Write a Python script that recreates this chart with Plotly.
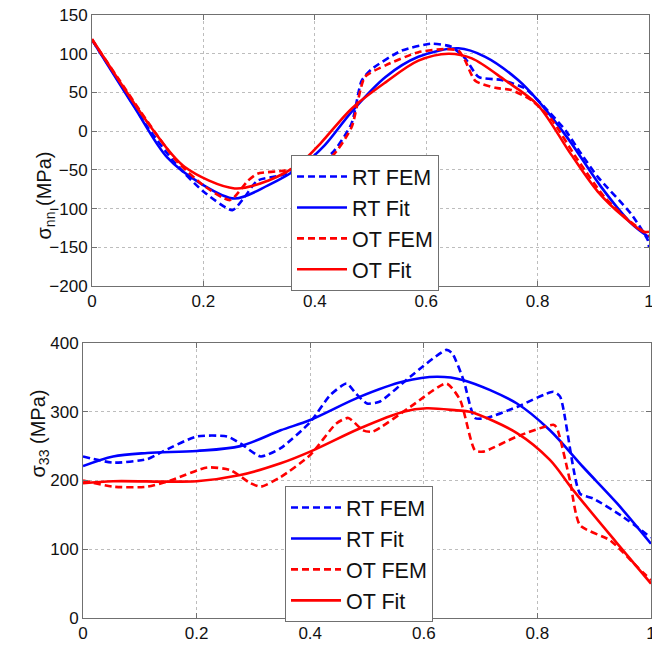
import plotly.graph_objects as go

# ---------------- data: top panel (sigma_nn) ----------------
top_rt_fem_x = [0, 0.05, 0.1, 0.15, 0.2, 0.252, 0.274, 0.297, 0.34, 0.38, 0.43, 0.466, 0.484, 0.502,
                0.556, 0.61, 0.645, 0.67, 0.694, 0.735, 0.778, 0.819, 0.85, 0.878, 0.908, 0.968, 0.998, 1.0]
top_rt_fem_y = [118, 62, 5, -42, -78, -102, -85, -64, -57, -45, -29, 10, 65, 80,
                104, 113, 109, 94, 70, 66, 55, 26, 1, -29, -59, -107, -141, -150]

top_rt_fit_x = [0, 0.076, 0.135, 0.196, 0.256, 0.316, 0.376, 0.418, 0.466, 0.527, 0.586, 0.658,
                0.706, 0.765, 0.8, 0.855, 0.914, 0.968, 1.0]
top_rt_fit_y = [118, 31, -34, -68, -87, -70, -45, -18, 25, 70, 96, 107,
                96, 66, 40, -10, -72, -119, -137]

top_ot_fem_x = [0, 0.05, 0.1, 0.15, 0.2, 0.248, 0.28, 0.297, 0.346, 0.38, 0.43, 0.466, 0.49, 0.527,
                0.586, 0.634, 0.658, 0.67, 0.688, 0.724, 0.753, 0.789, 0.826, 0.87, 0.92, 0.96, 1.0]
top_ot_fem_y = [118, 65, 12, -37, -70, -89, -64, -55, -51, -45, -33, 5, 70, 85,
                102, 106, 104, 91, 65, 56, 53, 40, 14, -35, -85, -113, -135]

top_ot_fit_x = [0, 0.106, 0.166, 0.256, 0.316, 0.376, 0.41, 0.466, 0.527, 0.586, 0.64, 0.682,
                0.741, 0.8, 0.86, 0.908, 0.955, 0.99, 1.0]
top_ot_fit_y = [119, 5, -46, -74, -64, -40, -16, 29, 63, 91, 100, 94,
                66, 34, -30, -78, -111, -130, -130]

# ---------------- data: bottom panel (sigma_33) ----------------
bot_rt_fem_x = [0, 0.053, 0.113, 0.14, 0.2, 0.254, 0.277, 0.313, 0.348, 0.4, 0.435, 0.464, 0.48, 0.5,
                0.523, 0.576, 0.64, 0.65, 0.67, 0.69, 0.711, 0.764, 0.828, 0.84, 0.875, 0.898, 0.951, 1.0]
bot_rt_fem_y = [235, 226, 231, 242, 264, 264, 254, 235, 247, 285, 324, 341, 327, 312,
                315, 351, 390, 385, 346, 291, 291, 307, 329, 322, 181, 174, 147, 117]

bot_rt_fit_x = [0, 0.053, 0.113, 0.2, 0.277, 0.348, 0.4, 0.488, 0.564, 0.623, 0.67, 0.764,
                0.822, 0.88, 0.94, 1.0]
bot_rt_fit_y = [221, 235, 240, 243, 250, 273, 288, 322, 344, 351, 346, 312,
                273, 220, 167, 108]

bot_ot_fem_x = [0, 0.053, 0.113, 0.154, 0.219, 0.26, 0.295, 0.313, 0.348, 0.4, 0.446, 0.467, 0.493,
                0.51, 0.576, 0.64, 0.664, 0.69, 0.705, 0.764, 0.828, 0.834, 0.857, 0.875, 0.928, 0.975, 1.0]
bot_ot_fem_y = [200, 191, 191, 200, 219, 215, 196, 191, 205, 237, 283, 291, 273,
                271, 307, 341, 317, 244, 242, 264, 281, 277, 201, 135, 113, 75, 55]

bot_ot_fit_x = [0, 0.053, 0.2, 0.277, 0.348, 0.4, 0.488, 0.564, 0.605, 0.658, 0.681, 0.764,
                0.822, 0.863, 0.94, 1.0]
bot_ot_fit_y = [196, 199, 199, 208, 225, 242, 276, 300, 305, 302, 300, 269,
                230, 186, 109, 50]

x_ticks = [0, 0.2, 0.4, 0.6, 0.8, 1]
x_tick_labels = ["0", "0.2", "0.4", "0.6", "0.8", "1"]
top_y_ticks = [-200, -150, -100, -50, 0, 50, 100, 150]
bot_y_ticks = [0, 100, 200, 300, 400]

BLUE = "#0000FF"
RED = "#FF0000"
DASH = "7px,4px"
FONT = "Liberation Sans, Arial, sans-serif"

fig = go.Figure()

def add(x, y, name, color, dashed, xa, ya, legend):
    fig.add_trace(go.Scatter(
        x=x, y=y, name=name, mode="lines",
        line=dict(color=color, width=2.6, dash=DASH if dashed else "solid",
                  shape="spline", smoothing=0.6 if dashed else 0.9),
        xaxis=xa, yaxis=ya, legend=legend,
    ))

add(top_rt_fem_x, top_rt_fem_y, "RT FEM", BLUE, True, "x", "y", "legend")
add(top_rt_fit_x, top_rt_fit_y, "RT Fit", BLUE, False, "x", "y", "legend")
add(top_ot_fem_x, top_ot_fem_y, "OT FEM", RED, True, "x", "y", "legend")
add(top_ot_fit_x, top_ot_fit_y, "OT Fit", RED, False, "x", "y", "legend")

add(bot_rt_fem_x, bot_rt_fem_y, "RT FEM", BLUE, True, "x2", "y2", "legend2")
add(bot_rt_fit_x, bot_rt_fit_y, "RT Fit", BLUE, False, "x2", "y2", "legend2")
add(bot_ot_fem_x, bot_ot_fem_y, "OT FEM", RED, True, "x2", "y2", "legend2")
add(bot_ot_fit_x, bot_ot_fit_y, "OT Fit", RED, False, "x2", "y2", "legend2")

W, H = 652, 648

def px(v):
    return v / W

def py(v):
    return 1 - v / H

axis_common = dict(
    showgrid=True, gridcolor="#bdbdbd", griddash="dot", gridwidth=1,
    showline=True, linecolor="#707070", linewidth=1, mirror="ticks",
    ticks="inside", ticklen=5, tickcolor="#707070",
    zeroline=False, automargin=False, ticklabeloverflow="allow",
    tickfont=dict(family=FONT, size=17, color="#111111"),
)

legend_common = dict(
    xanchor="left", yanchor="top",
    bgcolor="white", bordercolor="#707070", borderwidth=1,
    font=dict(family=FONT, size=21.5, color="#111111"),
    tracegroupgap=0, itemwidth=50,
)

fig.update_layout(
    width=W, height=H,
    margin=dict(l=0, r=0, t=0, b=0),
    paper_bgcolor="white", plot_bgcolor="white",
    showlegend=True,
    xaxis=dict(domain=[px(92), px(649)], range=[0, 1], anchor="y",
               tickvals=x_ticks, ticktext=x_tick_labels, **axis_common),
    yaxis=dict(domain=[py(286), py(15)], range=[-200, 150], anchor="x",
               tickvals=top_y_ticks, **axis_common),
    xaxis2=dict(domain=[px(83), px(651)], range=[0, 1], anchor="y2",
                tickvals=x_ticks, ticktext=x_tick_labels, **axis_common),
    yaxis2=dict(domain=[py(618), py(343)], range=[0, 400], anchor="x2",
                tickvals=bot_y_ticks, **axis_common),
    legend=dict(x=px(291), y=py(155), **legend_common),
    legend2=dict(x=px(285), y=py(486), **legend_common),
    annotations=[
        dict(text="σ<sub>nn</sub>\u00a0(MPa)", textangle=-90, x=px(30), y=py(150),
             xref="paper", yref="paper", showarrow=False,
             font=dict(family=FONT, size=20, color="#111111")),
        dict(text="σ<sub>33</sub>\u00a0(MPa)", textangle=-90, x=px(24), y=py(480),
             xref="paper", yref="paper", showarrow=False,
             font=dict(family=FONT, size=20, color="#111111")),
    ],
)

fig.write_html("out.html")
